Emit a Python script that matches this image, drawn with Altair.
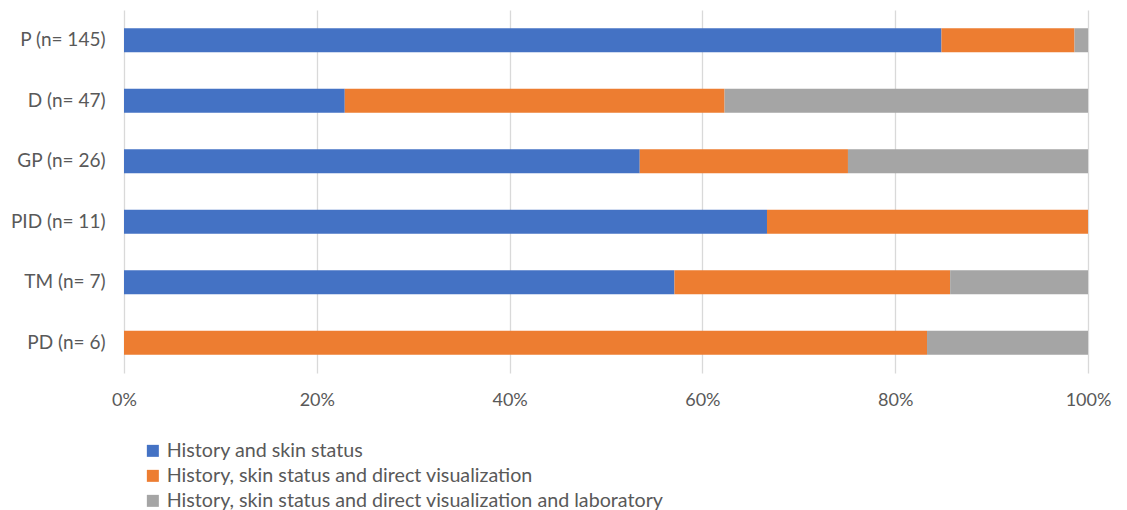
import altair as alt
import pandas as pd

categories = ["P (n= 145)", "D (n= 47)", "GP (n= 26)", "PID (n= 11)", "TM (n= 7)", "PD (n= 6)"]
series = [
    "History and skin status",
    "History, skin status and direct visualization",
    "History, skin status and direct visualization and laboratory",
]
hist_skin = [84.8, 22.9, 53.5, 66.7, 57.1, 0.0]
hist_skin_vis = [13.8, 39.4, 21.6, 33.3, 28.6, 83.3]
hist_skin_vis_lab = [1.4, 37.7, 24.9, 0.0, 14.3, 16.7]
colors = ["#4472C4", "#ED7D31", "#A5A5A5"]

rows = []
for i, c in enumerate(categories):
    for j, (s, vals) in enumerate(zip(series, [hist_skin, hist_skin_vis, hist_skin_vis_lab])):
        rows.append({"cat": c, "series": s, "order": j, "value": vals[i]})
df = pd.DataFrame(rows)

FONT = "Lato"

chart = alt.Chart(df).mark_bar(size=24).encode(
    y=alt.Y("cat:N", sort=categories, title=None,
            axis=alt.Axis(labelFontSize=19, labelColor="#595959", labelFont=FONT,
                          ticks=False, domain=False, labelPadding=19)),
    x=alt.X("value:Q", stack="normalize", title=None,
            scale=alt.Scale(domain=[0, 1]),
            axis=alt.Axis(format=".0%", values=[0, 0.2, 0.4, 0.6, 0.8, 1.0],
                          labelFontSize=18, labelColor="#595959", labelFont=FONT,
                          labelFlush=False,
                          ticks=False, domain=False, labelPadding=18,
                          grid=True, gridColor="#D9D9D9", gridWidth=1.3)),
    color=alt.Color("series:N", sort=series,
                    scale=alt.Scale(domain=series, range=colors),
                    legend=alt.Legend(title=None, orient="none", legendX=19, legendY=431,
                                      direction="vertical", symbolType="square",
                                      symbolSize=144, symbolStrokeWidth=0,
                                      labelFontSize=19.7, labelColor="#595959", labelFont=FONT,
                                      rowPadding=4, labelOffset=4, labelLimit=900)),
    order=alt.Order("order:Q"),
).properties(
    width=964, height=363,
    padding={"left": 124, "top": 10, "right": 39, "bottom": 137},
    autosize=alt.AutoSizeParams(type="none"),
).configure_view(stroke=None).configure_scale(bandPaddingInner=0.6)

chart.save("out.html", embed_options={"renderer": "svg", "actions": False})
